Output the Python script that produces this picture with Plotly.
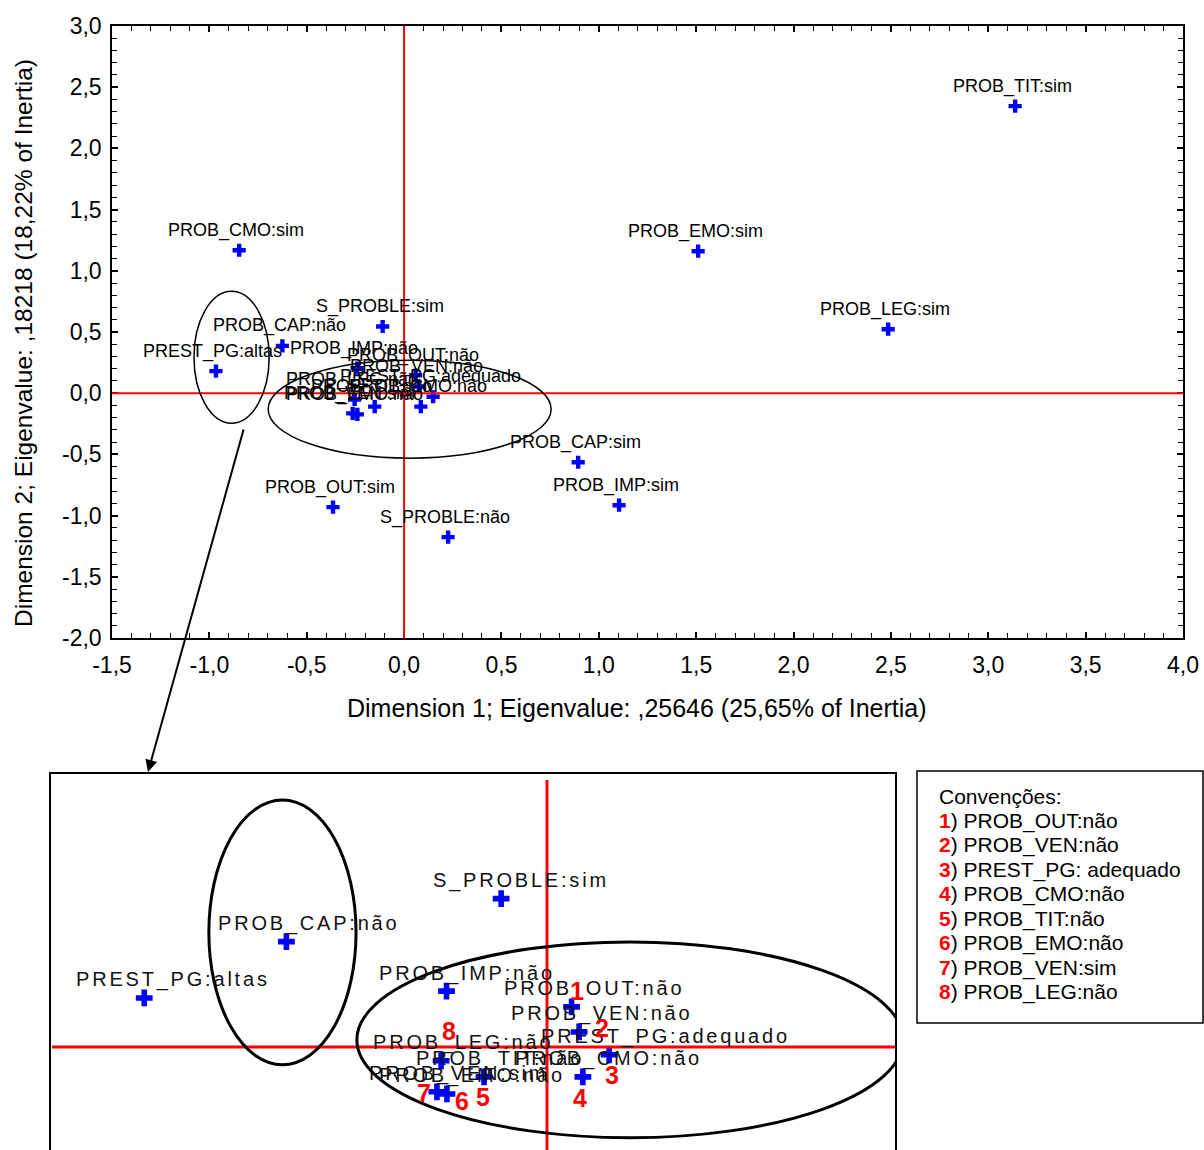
import plotly.graph_objects as go

# Category coordinates on the first two dimensions
categories = [
    "PROB_TIT:sim", "PROB_EMO:sim", "PROB_LEG:sim", "PROB_CMO:sim",
    "S_PROBLE:sim", "PROB_CAP:não", "PREST_PG:altas", "PROB_IMP:não",
    "PROB_OUT:não", "PROB_VEN:não", "PREST_PG:adequado", "PROB_CMO:não",
    "PROB_TIT:não", "PROB_LEG:não", "PROB_VEN:sim", "PROB_EMO:não",
    "PROB_CAP:sim", "PROB_IMP:sim", "PROB_OUT:sim", "S_PROBLE:não",
]
dim1 = [3.138, 1.510, 2.486, -0.847, -0.110, -0.625, -0.966, -0.241,
        0.059, 0.077, 0.149, 0.086, -0.151, -0.254, -0.264, -0.240,
        0.894, 1.104, -0.365, 0.226]
dim2 = [2.345, 1.160, 0.523, 1.168, 0.545, 0.387, 0.180, 0.205,
        0.147, 0.055, -0.029, -0.110, -0.110, -0.051, -0.165, -0.173,
        -0.564, -0.915, -0.931, -1.176]

x_ticks = [-1.5, -1.0, -0.5, 0.0, 0.5, 1.0, 1.5, 2.0, 2.5, 3.0, 3.5, 4.0]
x_ticktext = ["-1,5", "-1,0", "-0,5", "0,0", "0,5", "1,0", "1,5", "2,0",
              "2,5", "3,0", "3,5", "4,0"]
y_ticks = [-2.0, -1.5, -1.0, -0.5, 0.0, 0.5, 1.0, 1.5, 2.0, 2.5, 3.0]
y_ticktext = ["-2,0", "-1,5", "-1,0", "-0,5", "0,0", "0,5", "1,0", "1,5",
              "2,0", "2,5", "3,0"]

x_title = "Dimension 1; Eigenvalue: ,25646 (25,65% of Inertia)"
y_title = "Dimension 2; Eigenvalue: ,18218 (18,22% of Inertia)"

# Numbered conventions used in the zoomed panel
conv_title = "Convenções:"
conv_items = ["PROB_OUT:não", "PROB_VEN:não", "PREST_PG: adequado",
              "PROB_CMO:não", "PROB_TIT:não", "PROB_EMO:não",
              "PROB_VEN:sim", "PROB_LEG:não"]
conv_points = ["PROB_OUT:não", "PROB_VEN:não", "PREST_PG:adequado",
               "PROB_CMO:não", "PROB_TIT:não", "PROB_EMO:não",
               "PROB_VEN:sim", "PROB_LEG:não"]
# pixel offsets of each red number from its point (right, down)
num_offsets = [(5, -16), (23, -4), (3, 20), (-3, 21), (-1, 20), (15, 7),
               (-13, 1), (8, -30)]

W, H = 1204, 1150
FONT = "Liberation Sans, Arial, sans-serif"
BLUE = "#0000ff"
RED = "#ff0000"


def px(v):
    return v / W


def py(v):
    return 1 - v / H


main_x_range = [-1.5, 4.0]
main_y_range = [-2.0, 3.0]
zoom_x_range = [-1.192, 0.837]
zoom_y_range = [-0.379, 1.007]

fig = go.Figure()

fig.add_trace(go.Scatter(
    x=dim1, y=dim2, mode="markers", xaxis="x", yaxis="y",
    marker=dict(symbol="cross", size=11, color=BLUE, line=dict(width=0)),
    hoverinfo="skip", showlegend=False))

fig.add_trace(go.Scatter(
    x=dim1, y=dim2, mode="markers", xaxis="x2", yaxis="y2",
    marker=dict(symbol="cross", size=14, color=BLUE, line=dict(width=0)),
    hoverinfo="skip", showlegend=False))

annotations = []
# point labels on the main map
for lab, a, b in zip(categories, dim1, dim2):
    annotations.append(dict(
        x=a, y=b, xref="x", yref="y", text=lab, showarrow=False,
        xanchor="center", yanchor="middle", xshift=-3, yshift=20,
        font=dict(family=FONT, size=18, color="black")))

# point labels on the zoomed panel
for lab, a, b in zip(categories, dim1, dim2):
    if not (zoom_x_range[0] < a < zoom_x_range[1] and zoom_y_range[0] < b < zoom_y_range[1]):
        continue
    annotations.append(dict(
        x=a, y=b, xref="x2", yref="y2",
        text=f'<span style="letter-spacing:2.8px">{lab}</span>',
        showarrow=False, xanchor="left", yanchor="middle",
        xshift=-70, yshift=18,
        font=dict(family=FONT, size=20, color="#111111")))

# red numbers in the zoomed panel
for i, (name, (dx, dy)) in enumerate(zip(conv_points, num_offsets), start=1):
    k = categories.index(name)
    annotations.append(dict(
        x=dim1[k], y=dim2[k], xref="x2", yref="y2", text=f"<b>{i}</b>",
        showarrow=False, xanchor="center", yanchor="middle",
        xshift=dx, yshift=-dy,
        font=dict(family="Liberation Sans Narrow, Arial Narrow, " + FONT,
                  size=25, color=RED)))

# axis titles
annotations.append(dict(
    x=px(637), y=py(708), xref="paper", yref="paper", text=x_title,
    showarrow=False, xanchor="center", yanchor="middle",
    font=dict(family=FONT, size=25, color="black")))
annotations.append(dict(
    x=px(24), y=py(343), xref="paper", yref="paper", text=y_title,
    showarrow=False, xanchor="center", yanchor="middle", textangle=-90,
    font=dict(family=FONT, size=24.5, color="black")))

# arrow from the main map to the zoomed panel
annotations.append(dict(
    x=px(148), y=py(772), xref="paper", yref="paper", text="",
    showarrow=True, arrowhead=2, arrowsize=1.2, arrowwidth=2,
    arrowcolor="black", ax=96, ay=-344))

# conventions box text
annotations.append(dict(
    x=px(937), y=py(796), xref="paper", yref="paper", text=conv_title,
    showarrow=False, xanchor="left", yanchor="middle",
    font=dict(family=FONT, size=21, color="black")))
for i, item in enumerate(conv_items, start=1):
    annotations.append(dict(
        x=px(937), y=py(796 + 24.5 * i), xref="paper", yref="paper",
        text=f'<b><span style="color:{RED}">{i}</span></b>) {item}',
        showarrow=False, xanchor="left", yanchor="middle",
        font=dict(family=FONT, size=21, color="black")))

shapes = [
    # origin lines on the main map
    dict(type="line", xref="x", yref="y domain", x0=0, x1=0, y0=0, y1=1,
         line=dict(color=RED, width=2), layer="above"),
    dict(type="line", xref="x domain", yref="y", x0=0, x1=1, y0=0, y1=0,
         line=dict(color=RED, width=2), layer="above"),
    # group ellipses on the main map
    dict(type="circle", xref="x", yref="y", x0=-1.079, x1=-0.693,
         y0=-0.245, y1=0.833, line=dict(color="black", width=1.5)),
    dict(type="circle", xref="x", yref="y", x0=-0.698, x1=0.755,
         y0=-0.531, y1=0.27, line=dict(color="black", width=1.5)),
    # origin lines on the zoomed panel
    dict(type="line", xref="x2", yref="paper", x0=0, x1=0, y0=0, y1=py(780),
         line=dict(color=RED, width=3), layer="above"),
    dict(type="line", xref="paper", yref="y2", x0=px(52), x1=px(896), y0=0, y1=0,
         line=dict(color=RED, width=3), layer="above"),
    # group ellipses on the zoomed panel
    dict(type="circle", xref="x2", yref="y2", x0=-0.811, x1=-0.458,
         y0=-0.066, y1=0.908, line=dict(color="black", width=3)),
    dict(type="circle", xref="x2", yref="y2", x0=-0.456, x1=0.854,
         y0=-0.334, y1=0.386, line=dict(color="black", width=3)),
    # frame of the zoomed panel
    dict(type="path", xref="paper", yref="paper",
         path=f"M {px(50)},{py(1152)} L {px(50)},{py(773)} L {px(896)},{py(773)} L {px(896)},{py(1152)}",
         line=dict(color="black", width=2)),
    # conventions box
    dict(type="rect", xref="paper", yref="paper", x0=px(917), x1=px(1203),
         y0=py(1023), y1=py(771), line=dict(color="black", width=1.5)),
]

axis_common = dict(
    showgrid=False, zeroline=False, showline=True, mirror="ticks",
    linecolor="black", linewidth=1.5, ticks="inside", ticklen=6,
    tickwidth=1.5, tickcolor="black", automargin=False,
    tickfont=dict(family=FONT, size=23, color="black"),
    minor=dict(dtick=0.1, ticks="inside", ticklen=5, tickwidth=1,
               tickcolor="black", showgrid=False),
)
hidden_axis = dict(showgrid=False, zeroline=False, showline=False,
                   showticklabels=False, ticks="", automargin=False)

fig.update_layout(
    width=W, height=H,
    margin=dict(l=0, r=0, t=0, b=0, pad=0, autoexpand=False),
    paper_bgcolor="white", plot_bgcolor="white", showlegend=False,
    xaxis=dict(domain=[px(112), px(1183)], range=main_x_range,
               tickvals=x_ticks, ticktext=x_ticktext, anchor="y",
               ticklabelstandoff=6, **axis_common),
    yaxis=dict(domain=[py(638), py(26)], range=main_y_range,
               tickvals=y_ticks, ticktext=y_ticktext, anchor="x",
               ticklabelstandoff=4, **axis_common),
    xaxis2=dict(domain=[px(50), px(896)], range=zoom_x_range, anchor="y2",
                **hidden_axis),
    yaxis2=dict(domain=[0, py(773)], range=zoom_y_range, anchor="x2",
                **hidden_axis),
    shapes=shapes, annotations=annotations,
)

fig.write_html("out.html")
